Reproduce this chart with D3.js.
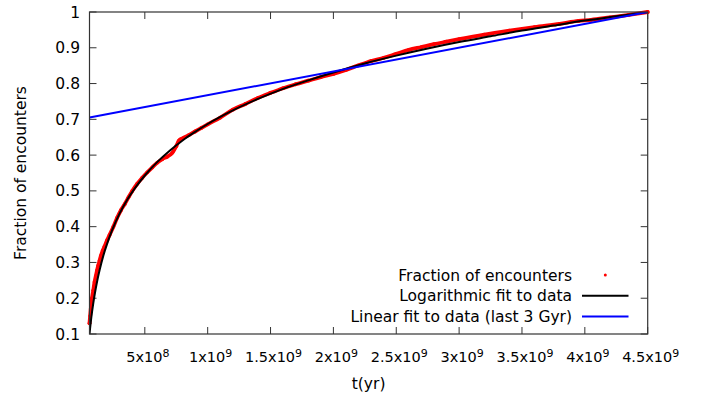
<!DOCTYPE html>
<html>
<head>
<meta charset="utf-8">
<script src="https://cdn.jsdelivr.net/npm/d3@7"></script>
<style>
  html, body { margin: 0; padding: 0; background: #fff; }
  svg { display: block; }
  text { font-family: "DejaVu Sans", sans-serif; fill: #000; }
</style>
</head>
<body>
<svg id="chart" width="703" height="398"></svg>
<script>
// ---- data ----
// measured data: time (yr) and cumulative fraction of encounters
const dataT = [6.0e7, 6.5e7, 7.0e7, 8.0e7, 9.0e7, 1.0e8, 1.1e8, 1.2e8, 1.3e8, 1.4e8, 1.5e8, 1.65e8, 1.8e8,
  2.0e8, 2.2e8, 2.5e8, 2.8e8, 3.1e8, 3.4e8, 3.7e8, 4.0e8, 4.4e8, 4.8e8, 5.2e8, 5.6e8, 6.0e8, 6.4e8, 6.8e8,
  7.2e8, 7.5e8, 7.7e8, 8.0e8, 8.5e8, 9.0e8, 9.5e8, 1.0e9, 1.1e9, 1.2e9, 1.3e9, 1.4e9, 1.5e9, 1.6e9, 1.7e9,
  1.8e9, 1.9e9, 2.0e9, 2.1e9, 2.2e9, 2.3e9, 2.4e9, 2.5e9, 2.6e9, 2.7e9, 2.8e9, 2.9e9, 3.0e9, 3.2e9, 3.4e9,
  3.6e9, 3.8e9, 3.95e9, 4.05e9, 4.2e9, 4.35e9, 4.5e9];
const dataFrac = [0.130, 0.150, 0.170, 0.200, 0.222, 0.245, 0.262, 0.278, 0.292, 0.305, 0.318, 0.333, 0.345,
  0.362, 0.377, 0.400, 0.425, 0.446, 0.463, 0.482, 0.500, 0.520, 0.537, 0.552, 0.566, 0.579, 0.589, 0.596,
  0.607, 0.625, 0.640, 0.647, 0.656, 0.666, 0.676, 0.686, 0.705, 0.727, 0.743, 0.760, 0.774, 0.787, 0.798,
  0.808, 0.818, 0.827, 0.838, 0.851, 0.863, 0.872, 0.883, 0.894, 0.902, 0.910, 0.917, 0.924, 0.937, 0.948,
  0.958, 0.967, 0.975, 0.978, 0.985, 0.992, 1.000];

// logarithmic fit curve, read point by point
const logFitT = [6.0e7, 7.5e7, 9.0e7, 1.05e8, 1.2e8, 1.4e8, 1.7e8, 2.0e8, 2.4e8, 3.0e8, 3.6e8, 4.2e8, 5.0e8,
  6.0e8, 7.0e8, 8.0e8, 9.0e8, 1.0e9, 1.2e9, 1.4e9, 1.6e9, 1.8e9, 2.0e9, 2.25e9, 2.5e9, 2.75e9, 3.0e9,
  3.25e9, 3.5e9, 3.75e9, 4.0e9, 4.25e9, 4.5e9];
const logFitFrac = [0.100, 0.148, 0.186, 0.218, 0.246, 0.278, 0.319, 0.352, 0.390, 0.437, 0.475, 0.507, 0.543,
  0.581, 0.613, 0.641, 0.665, 0.687, 0.725, 0.757, 0.785, 0.809, 0.831, 0.856, 0.878, 0.898, 0.916,
  0.932, 0.948, 0.962, 0.976, 0.988, 1.000];

// linear fit (last 3 Gyr), end points
const linFitT = [6.0e7, 4.5e9];
const linFitFrac = [0.705, 1.0];

// axes
const xTickValues = [5e8, 1e9, 1.5e9, 2e9, 2.5e9, 3e9, 3.5e9, 4e9, 4.5e9];
const xTickMantissa = ["5", "1", "1.5", "2", "2.5", "3", "3.5", "4", "4.5"];
const xTickExponent = ["8", "9", "9", "9", "9", "9", "9", "9", "9"];
const yTickValues = [0.1, 0.2, 0.3, 0.4, 0.5, 0.6, 0.7, 0.8, 0.9, 1.0];
const yTickLabels = ["0.1", "0.2", "0.3", "0.4", "0.5", "0.6", "0.7", "0.8", "0.9", "1"];

const seriesNames = ["Fraction of encounters", "Logarithmic fit to data", "Linear fit to data (last 3 Gyr)"];
const seriesColors = ["#ff0000", "#000000", "#0000ff"];
const xTitle = "t(yr)";
const yTitle = "Fraction of encounters";

// ---- layout ----
const L = 89.5, R = 647.7, T = 12, B = 334;
const svg = d3.select("#chart");
const x = d3.scaleLinear().domain([6e7, 4.5e9]).range([L, R]);
const y = d3.scaleLinear().domain([0.1, 1.0]).range([B, T]);

svg.append("defs").append("clipPath").attr("id", "plotclip")
  .append("rect").attr("x", L).attr("y", T).attr("width", R - L).attr("height", B - T);

const axisColor = "#333";
const tickLen = 7;

// ticks (inward, mirrored)
const tickG = svg.append("g").attr("stroke", axisColor).attr("stroke-width", 1);
xTickValues.forEach(v => {
  tickG.append("line").attr("x1", x(v)).attr("x2", x(v)).attr("y1", B).attr("y2", B - tickLen);
  tickG.append("line").attr("x1", x(v)).attr("x2", x(v)).attr("y1", T).attr("y2", T + tickLen);
});
yTickValues.forEach(v => {
  tickG.append("line").attr("x1", L).attr("x2", L + tickLen).attr("y1", y(v)).attr("y2", y(v));
  tickG.append("line").attr("x1", R).attr("x2", R - tickLen).attr("y1", y(v)).attr("y2", y(v));
});

// y tick labels
svg.append("g").selectAll("text").data(yTickValues).join("text")
  .attr("x", 80).attr("y", d => y(d)).attr("dy", "0.36em")
  .attr("text-anchor", "end").style("font-size", "15.5px")
  .text((d, i) => yTickLabels[i]);

// x tick labels with superscript exponent
const xl = svg.append("g").selectAll("text").data(xTickValues).join("text")
  .attr("x", d => x(d) + 3).attr("y", 361.5)
  .attr("text-anchor", "middle").style("font-size", "14.5px");
xl.append("tspan").text((d, i) => xTickMantissa[i] + "x10");
xl.append("tspan").attr("dy", -5).style("font-size", "11px").text((d, i) => xTickExponent[i]);

// axis titles
svg.append("text").attr("x", (L + R) / 2).attr("y", 389).attr("text-anchor", "middle")
  .style("font-size", "15.5px").text(xTitle);
svg.append("text").attr("transform", `translate(26,${(T + B) / 2}) rotate(-90)`)
  .attr("text-anchor", "middle").style("font-size", "15.5px").text(yTitle);

// ---- series ----
const dataPts = dataT.map((t, i) => [t, dataFrac[i]]);
const logPts = logFitT.map((t, i) => [t, logFitFrac[i]]);
const linPts = linFitT.map((t, i) => [t, linFitFrac[i]]);

const plot = svg.append("g");
// dense data points appear as a thick red band
plot.append("path").datum(dataPts)
  .attr("fill", "none").attr("stroke", seriesColors[0]).attr("stroke-width", 3.8)
  .attr("stroke-linejoin", "round").attr("stroke-linecap", "round")
  .attr("d", d3.line().x(d => x(d[0])).y(d => y(d[1])).curve(d3.curveMonotoneX));
plot.append("g").selectAll("circle").data(dataPts).join("circle")
  .attr("cx", d => x(d[0])).attr("cy", d => y(d[1])).attr("r", 1.9).attr("fill", seriesColors[0]);

const clipped = svg.append("g").attr("clip-path", "url(#plotclip)");
clipped.append("path").datum(logPts)
  .attr("fill", "none").attr("stroke", seriesColors[1]).attr("stroke-width", 2)
  .attr("d", d3.line().x(d => x(d[0])).y(d => y(d[1])).curve(d3.curveMonotoneX));
clipped.append("path").datum(linPts)
  .attr("fill", "none").attr("stroke", seriesColors[2]).attr("stroke-width", 2)
  .attr("d", d3.line().x(d => x(d[0])).y(d => y(d[1])));

// border
svg.append("rect").attr("x", L).attr("y", T).attr("width", R - L).attr("height", B - T)
  .attr("fill", "none").attr("stroke", axisColor).attr("stroke-width", 1.2);

// ---- legend ----
const legY = [275, 295.8, 316.6];
const leg = svg.append("g");
seriesNames.forEach((name, i) => {
  leg.append("text").attr("x", 572).attr("y", legY[i]).attr("dy", "0.36em")
    .attr("text-anchor", "end").style("font-size", "15.5px").text(name);
});
leg.append("circle").attr("cx", 605.3).attr("cy", legY[0]).attr("r", 1.5).attr("fill", seriesColors[0]);
[1, 2].forEach(i => {
  leg.append("line").attr("x1", 582).attr("x2", 628.5).attr("y1", legY[i]).attr("y2", legY[i])
    .attr("stroke", seriesColors[i]).attr("stroke-width", 2);
});
</script>
</body>
</html>
